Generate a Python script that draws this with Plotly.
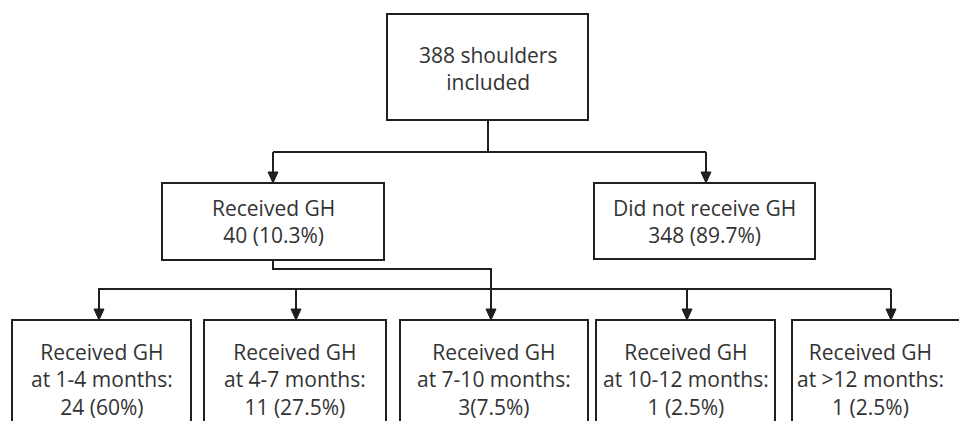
import plotly.graph_objects as go

# ---- data ----
total_label = "388 shoulders<br>included"
group_names = ["Received GH", "Did not receive GH"]
group_counts = [40, 348]
group_pcts = ["10.3%", "89.7%"]
timing_labels = ["1-4 months", "4-7 months", "7-10 months", "10-12 months", ">12 months"]
timing_counts = [24, 11, 3, 1, 1]
timing_pcts = ["60%", "27.5%", "7.5%", "2.5%", "2.5%"]
timing_sep = [" ", " ", "", " ", " "]

# ---- layout geometry (pixels) ----
W, H = 959, 421
LC = "#231f20"
TC = "#333333"
LW = 2
FONT = "Open Sans"
FS = 21

top_box = (387, 14, 588, 120)
mid_boxes = [(162, 183, 384, 260), (594, 183, 815, 259)]
bot_boxes = [(12, 320, 191, 440), (204, 320, 386, 440), (400, 320, 588, 440),
             (596, 320, 775, 440), (792, 320, 975, 440)]
bot_arrow_x = [99, 296, 491, 687, 891]

shapes = []
annotations = []

def rect(b):
    shapes.append(dict(type="rect", x0=b[0], y0=b[1], x1=b[2], y1=b[3],
                       line=dict(color=LC, width=LW), fillcolor="white", layer="above"))

def path(pts):
    d = "M " + " L ".join(f"{x},{y}" for x, y in pts)
    shapes.append(dict(type="path", path=d, line=dict(color=LC, width=LW), layer="above"))

def head(x, ytip):
    d = f"M {x-5},{ytip-11} L {x+5},{ytip-11} L {x},{ytip} Z"
    shapes.append(dict(type="path", path=d, line=dict(color=LC, width=1),
                       fillcolor=LC, layer="above"))

def text(x, y, t):
    annotations.append(dict(x=x, y=y, text=t, showarrow=False, xanchor="center",
                            yanchor="middle", font=dict(family=FONT, size=FS, color=TC)))

# top box
rect(top_box)
text((top_box[0] + top_box[2]) / 2, 68, total_label)

# connectors top -> mid
path([(488, 120), (488, 152)])
path([(273, 152), (706, 152)])
path([(273, 152), (273, 182)])
path([(706, 152), (706, 182)])
head(273, 183)
head(706, 183)

# mid boxes
mid_centers_x = [273, 704]
for b, name, c, p, cx in zip(mid_boxes, group_names, group_counts, group_pcts, mid_centers_x):
    rect(b)
    text(cx, 221, f"{name}<br>{c} ({p})")

# connectors GH -> bottom
path([(98, 289), (891, 289)])
path([(273, 260), (273, 269), (491, 269), (491, 319)])
for x in bot_arrow_x:
    path([(x, 289), (x, 319)])
    head(x, 320)

# bottom boxes
for b, lab, c, p, s in zip(bot_boxes, timing_labels, timing_counts, timing_pcts, timing_sep):
    rect(b)
    cx = (b[0] + 948) / 2 if b[2] > W else (b[0] + b[2]) / 2
    text(cx, 379, f"Received GH<br>at {lab}:<br>{c}{s}({p})")

fig = go.Figure()
fig.update_layout(
    width=W, height=H,
    margin=dict(l=0, r=0, t=0, b=0),
    paper_bgcolor="white", plot_bgcolor="white",
    xaxis=dict(range=[0, W], visible=False, fixedrange=True),
    yaxis=dict(range=[H, 0], visible=False, fixedrange=True),
    shapes=shapes, annotations=annotations, showlegend=False,
)
fig.write_html("out.html", config=dict(displayModeBar=False),
               post_script="document.body.style.margin='0';document.body.style.overflow='hidden';")
